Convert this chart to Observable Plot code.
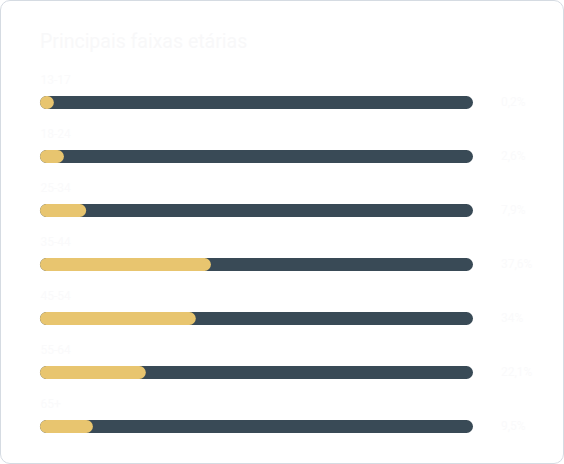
<!DOCTYPE html>
<html>
<head>
<meta charset="utf-8">
<script src="https://cdn.jsdelivr.net/npm/d3@7"></script>
<script src="https://cdn.jsdelivr.net/npm/@observablehq/plot@0.6"></script>
<style>
  html, body { margin: 0; padding: 0; background: #ffffff; }
  #wrap { position: relative; width: 564px; height: 464px; overflow: hidden; font-family: Roboto, "Noto Sans", sans-serif; }
  #card { position: absolute; left: 0; top: 0; width: 564px; height: 464px; box-sizing: border-box; border: 1px solid #d5dbe2; border-radius: 10px; background: #fff; }
  #title { position: absolute; left: 40px; top: 30px; margin: 0; font-size: 19.5px; font-weight: 400; color: #f8f8f9; white-space: nowrap; }
  #chart { position: absolute; left: 0; top: 0; }
  #chart svg { background: transparent; overflow: visible; }
</style>
</head>
<body>
<div id="wrap">
  <div id="card"></div>
  <h2 id="title">Principais faixas etárias</h2>
  <div id="chart"></div>
</div>
<script>
const title = "Principais faixas etárias";
const ages = ["13-17", "18-24", "25-34", "35-44", "45-54", "55-64", "65+"];
const shares = [0.2, 2.6, 7.9, 37.6, 34, 22.1, 9.5];
const total = 100;

const data = ages.map((a, i) => ({age: a, value: shares[i], total}));

const chart = Plot.plot({
  width: 564,
  height: 464,
  marginTop: 101,
  marginBottom: 37,
  marginLeft: 46.5,
  marginRight: 97.5,
  x: {domain: [0, 100], axis: null},
  y: {type: "point", domain: ages, axis: null, padding: 0},
  style: {background: "transparent", fontFamily: "Roboto, sans-serif"},
  marks: [
    Plot.ruleY(data, {y: "age", x1: 0, x2: "total", stroke: "#394a56", strokeWidth: 13, strokeLinecap: "round"}),
    Plot.ruleY(data, {y: "age", x1: 0, x2: "value", stroke: "#e8c56f", strokeWidth: 13, strokeLinecap: "round"}),
    Plot.text(data, {y: "age", x: 0, text: "age", dx: -6.5, dy: -22, textAnchor: "start", fill: "#fafafb", fontSize: 12}),
    Plot.text(data, {y: "age", x: "total", text: d => d.value.toLocaleString("pt-BR") + "%", dx: 34, textAnchor: "start", fill: "#fafafb", fontSize: 12})
  ]
});
document.getElementById("chart").appendChild(chart);
</script>
</body>
</html>
